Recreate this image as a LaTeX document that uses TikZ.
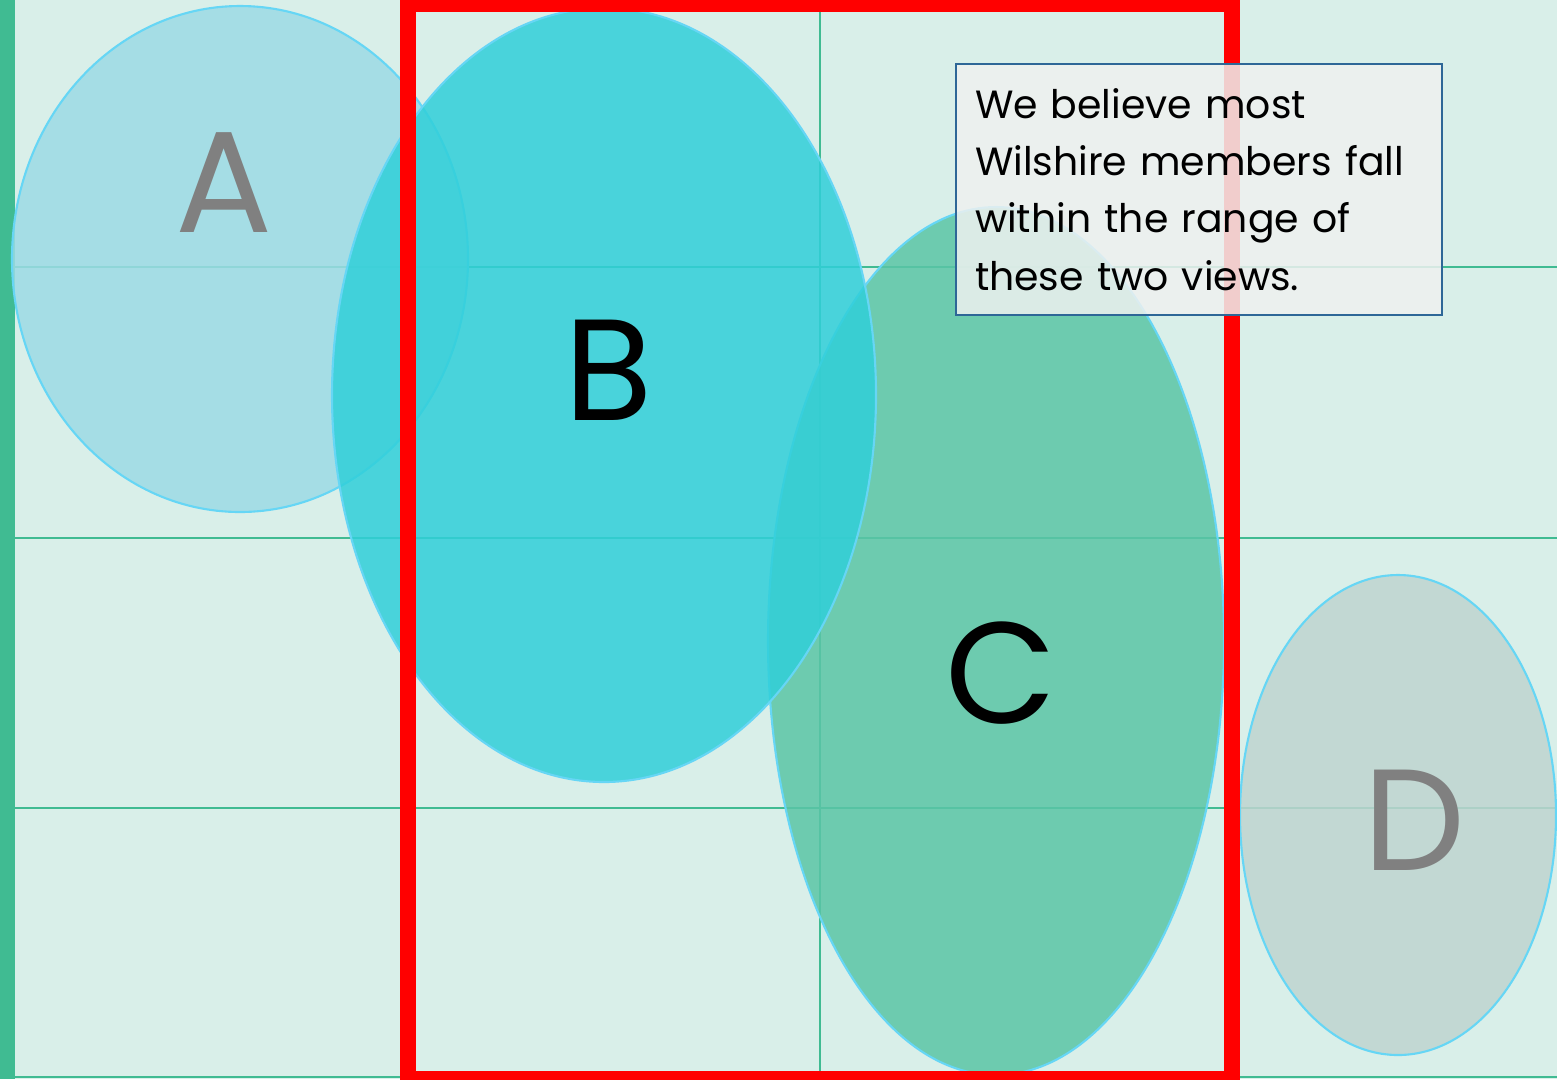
\documentclass[tikz,border=0pt]{standalone}
\usepackage{fontspec}
\setmainfont{Poppins}
\usepackage{xcolor}
\usepackage{tikz}
\usetikzlibrary{positioning, calc}

\begin{document}
\begin{tikzpicture}
% --- CORES HEX ---
\definecolor{fundo}{HTML}{D9EFE9}
\definecolor{grade}{HTML}{40BB92}
\definecolor{borda}{HTML}{66D6F5}
\definecolor{elipseA}{RGB}{157,219,229}
\definecolor{elipseB}{RGB}{48,207,217}
\definecolor{elipseC}{RGB}{91,197,166}
\definecolor{elipseD}{RGB}{191,212,208}
\definecolor{caixa}{HTML}{EFF1F0}
\definecolor{contorno}{HTML}{2E6797}
\definecolor{letra}{HTML}{808080}
\tikzset{
  vista/.style={draw=borda, line width=0.6pt, fill opacity=0.85},
  letrona/.style={anchor=base, inner sep=0pt, font=\fontsize{41}{41}\selectfont},
}
\useasboundingbox (0,0) rectangle (15.57,-10.79);
\clip (0,0) rectangle (15.57,-10.79);

% LAYER 1: Fundo, faixa lateral e grade
\fill[fundo] (0,0) rectangle (15.57,-10.79);
\fill[grade] (0,0) rectangle (0.15,-10.79);
\draw[grade, line width=0.7pt] (0.15,-2.67) -- (15.57,-2.67);
\draw[grade, line width=0.7pt] (0.15,-5.38) -- (15.57,-5.38);
\draw[grade, line width=0.7pt] (0.15,-8.08) -- (15.57,-8.08);
\draw[grade, line width=0.7pt] (0.15,-10.77) -- (15.57,-10.77);
\draw[grade, line width=0.7pt] (8.20,0) -- (8.20,-10.79);

% LAYER 2: Elipses (A, C, D e B por cima)
\draw[vista, fill=elipseA] (2.40,-2.59) ellipse (2.28 and 2.53);
\draw[vista, fill=elipseC] (9.96,-6.41) ellipse (2.28 and 4.34);
\draw[vista, fill=elipseD] (13.98,-8.15) ellipse (1.58 and 2.40);
\draw[vista, fill=elipseB] (6.04,-3.95) ellipse (2.72 and 3.87);

\node[letrona, text=letra] (letraA) at (2.24,-2.32) {A};
\node[letrona, text=black] (letraB) at (6.09,-4.20) {B};
\node[letrona, text=black] (letraC) at (10.01,-7.23) {C};
\node[letrona, text=letra] (letraD) at (14.14,-8.70) {D};

% LAYER 3: Faixa escolhida
\draw[red, line width=4.5pt] (4.08,-0.04) rectangle (12.32,-10.79);

% LAYER 4: Nota
\node[draw=contorno, line width=0.7pt, fill=caixa, fill opacity=0.85, text opacity=1,
      minimum width=4.86cm, minimum height=2.51cm, inner xsep=0.19cm,
      text width=4.48cm, align=left, font=\fontsize{11.2}{16.3}\selectfont]
      (nota) at (11.99,-1.895)
      {We believe most\\Wilshire members fall\\within the range of\\these two views.};
\end{tikzpicture}
\end{document}
